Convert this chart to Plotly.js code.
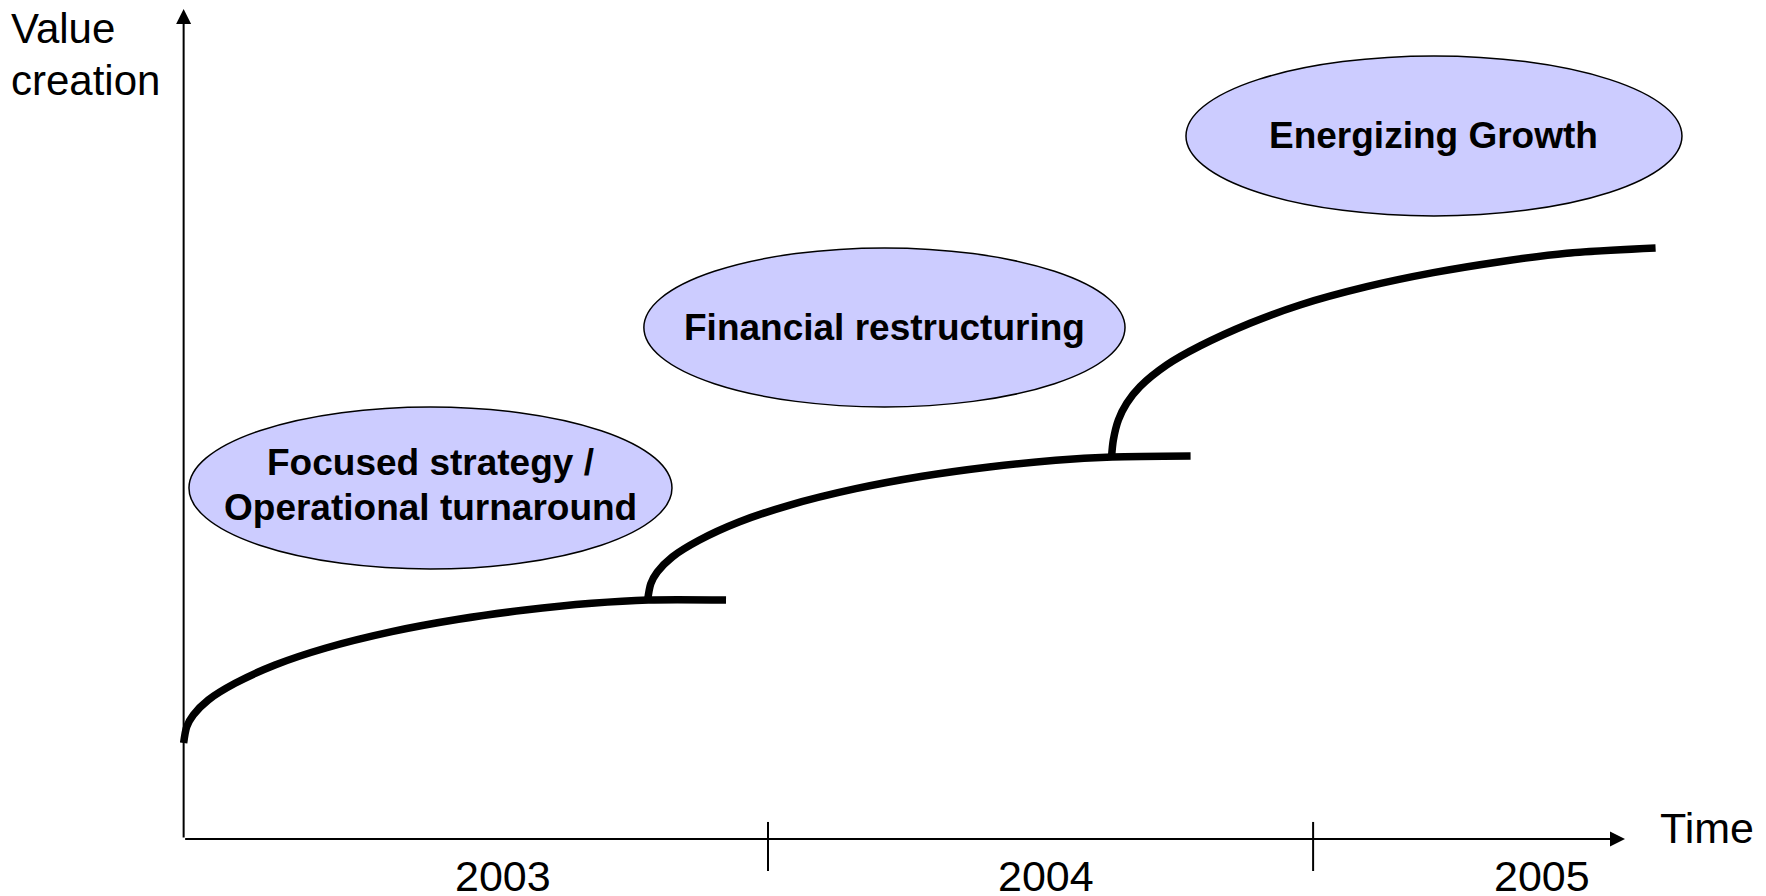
<!DOCTYPE html>
<html>
<head>
<meta charset="utf-8">
<script src="https://cdn.plot.ly/plotly-3.0.1.min.js"></script>
<style>
  html, body { margin: 0; padding: 0; background: #ffffff; }
  #chart { width: 1766px; height: 896px; }
</style>
</head>
<body>
<div id="chart"></div>
<script>
// ---- Data (abstract time units on x, value-creation index on y) ----
var yearLabels = ['2003', '2004', '2005'];
var yearLabelX = [22.16, 59.83, 94.24];
var yearBoundaries = [40.54, 78.36];

var phaseNames = [['Focused strategy /', 'Operational turnaround'], ['Financial restructuring'], ['Energizing Growth']];
var phaseX0 = [0.37, 31.93, 69.54];
var phaseX1 = [33.88, 65.31, 103.95];
var phaseY0 = [32.53, 52.05, 75.06];
var phaseY1 = [52.05, 71.20, 94.34];

var yTitleLines = ['Value', 'creation'];
var xTitle = 'Time';

// Phase 1 curve
var curve1X = [0, 0.215, 0.67, 1.71, 3.57, 6.34, 9.81, 14.44, 19.06, 23.69, 28.31, 32.24, 37.63];
var curve1Y = [11.57, 13.53, 14.94, 16.75, 18.76, 20.96, 22.98, 24.98, 26.47, 27.59, 28.40, 28.80, 28.80];
// Phase 2 curve
var curve2X = [32.19, 32.41, 32.86, 33.90, 35.76, 38.53, 42.00, 46.63, 51.25, 55.88, 60.50, 64.43, 69.86];
var curve2Y = [28.80, 30.76, 32.17, 33.98, 35.99, 38.19, 40.20, 42.20, 43.70, 44.82, 45.63, 46.02, 46.14];
// Phase 3 curve
var curve3X = [64.38, 64.50, 64.85, 65.43, 66.35, 68.21, 70.52, 73.98, 77.45, 82.08, 86.70, 91.33, 95.96, 102.12];
var curve3Y = [46.14, 48.07, 50.48, 52.49, 54.49, 57.11, 59.40, 62.13, 64.34, 66.54, 68.23, 69.55, 70.57, 71.20];

var FONT = 'Liberation Sans, Arial, Helvetica, sans-serif';

var curves = [[curve1X, curve1Y], [curve2X, curve2Y], [curve3X, curve3Y]];
var traces = curves.map(function (c) {
  return {
    x: c[0], y: c[1], type: 'scatter', mode: 'lines',
    line: { color: '#000000', width: 7.5, shape: 'spline', smoothing: 0.8 },
    hoverinfo: 'skip'
  };
});

var shapes = [];
yearBoundaries.forEach(function (b) {
  shapes.push({ type: 'line', xref: 'x', yref: 'y', x0: b, x1: b, y0: 2.05, y1: -3.86,
    line: { color: '#000000', width: 2 } });
});
for (var i = 0; i < phaseNames.length; i++) {
  shapes.push({ type: 'circle', xref: 'x', yref: 'y',
    x0: phaseX0[i], x1: phaseX1[i], y0: phaseY0[i], y1: phaseY1[i],
    fillcolor: '#CCCCFF', line: { color: '#000000', width: 1.5 }, layer: 'above' });
}

var annotations = [];
// axes with arrowheads
annotations.push({ x: 100, y: 0, ax: 0, ay: 0, xref: 'x', yref: 'y', axref: 'x', ayref: 'y',
  text: '', showarrow: true, arrowhead: 2, arrowsize: 1.5, arrowwidth: 2, arrowcolor: '#000000', standoff: 0 });
annotations.push({ x: 0, y: 100, ax: 0, ay: 0, xref: 'x', yref: 'y', axref: 'x', ayref: 'y',
  text: '', showarrow: true, arrowhead: 2, arrowsize: 1.5, arrowwidth: 2, arrowcolor: '#000000', standoff: 0 });
// year labels
for (var j = 0; j < yearLabels.length; j++) {
  annotations.push({ x: yearLabelX[j], y: -4.4, xref: 'x', yref: 'y', text: yearLabels[j],
    showarrow: false, xanchor: 'center', yanchor: 'middle',
    font: { family: FONT, size: 43, color: '#000000' } });
}
// phase labels (each line placed separately for tighter line spacing)
var LINE_STEP = 5.42;
for (var k = 0; k < phaseNames.length; k++) {
  var lines = phaseNames[k];
  var cy = (phaseY0[k] + phaseY1[k]) / 2 + (lines.length > 1 ? 0.3 : 0);
  for (var m = 0; m < lines.length; m++) {
    var off = ((lines.length - 1) / 2 - m) * LINE_STEP;
    annotations.push({ x: (phaseX0[k] + phaseX1[k]) / 2, y: cy + off,
      xref: 'x', yref: 'y', text: '<b>' + lines[m] + '</b>', showarrow: false,
      xanchor: 'center', yanchor: 'middle', align: 'center',
      font: { family: FONT, size: 37, color: '#000000' } });
  }
}
// axis titles
annotations.push({ x: 105.69, y: 1.33, xref: 'x', yref: 'y', text: xTitle, showarrow: false,
  xanchor: 'center', yanchor: 'middle', font: { family: FONT, size: 43, color: '#000000' } });
var yTitlePix = [28, 80];
for (var n = 0; n < yTitleLines.length; n++) {
  annotations.push({ x: 9 / 1766, y: 1 - yTitlePix[n] / 896, xref: 'paper', yref: 'paper',
    text: yTitleLines[n], showarrow: false, xanchor: 'left', yanchor: 'middle', align: 'left',
    font: { family: FONT, size: 42, color: '#000000' } });
}

var layout = {
  width: 1766, height: 896,
  margin: { l: 0, r: 0, t: 0, b: 0, pad: 0 },
  paper_bgcolor: '#ffffff', plot_bgcolor: '#ffffff',
  showlegend: false, hovermode: false,
  xaxis: { range: [-12.74, 109.78], visible: false, fixedrange: true },
  yaxis: { range: [-6.87, 101.08], visible: false, fixedrange: true },
  shapes: shapes,
  annotations: annotations
};

Plotly.newPlot('chart', traces, layout, { displayModeBar: false, staticPlot: true });
</script>
</body>
</html>
